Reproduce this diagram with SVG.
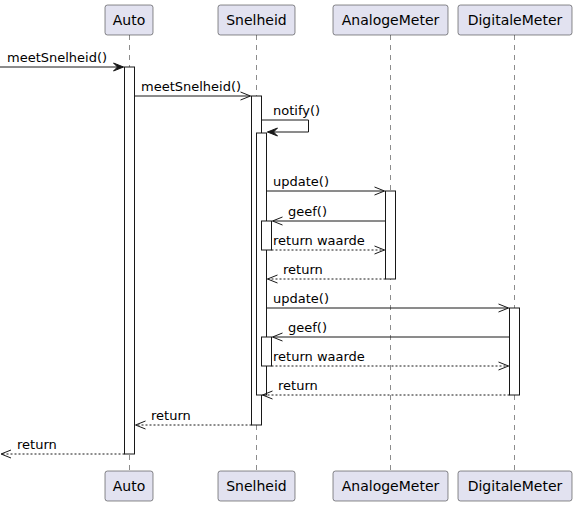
<svg xmlns="http://www.w3.org/2000/svg" width="576" height="506" viewBox="0 0 576 506">
  <style>
    .box { fill: #E2E2F0; stroke: #181818; stroke-width: 0.5; }
    .pname { font-family: "DejaVu Sans", "Liberation Sans", sans-serif; font-size: 14px; fill: #000; text-anchor: middle; }
    .life { stroke: #181818; stroke-width: 0.5; stroke-dasharray: 5,5; fill: none; }
    .act { fill: #FFFFFF; stroke: #181818; stroke-width: 1; }
    .msg { stroke: #181818; stroke-width: 1; fill: none; }
    .ret { stroke: #181818; stroke-width: 1; stroke-dasharray: 2,2; fill: none; }
    .lbl { font-family: "DejaVu Sans", "Liberation Sans", sans-serif; font-size: 13px; fill: #000; }
  </style>
  <defs>
    <marker id="open" viewBox="0 0 12 10" refX="11" refY="5" markerWidth="12" markerHeight="10" orient="auto" markerUnits="userSpaceOnUse">
      <path d="M1,1 L11,5 L1,9" fill="none" stroke="#181818" stroke-width="1"/>
    </marker>
    <marker id="solid" viewBox="0 0 12 10" refX="11" refY="5" markerWidth="12" markerHeight="10" orient="auto" markerUnits="userSpaceOnUse">
      <path d="M1,1 L11,5 L1,9 L5,5 Z" fill="#181818" stroke="#181818" stroke-width="1"/>
    </marker>
  </defs>

  <!-- lifelines -->
  <g id="lifelines">
    <line class="life" x1="129.5" y1="35" x2="129.5" y2="471"/>
    <line class="life" x1="256.5" y1="35" x2="256.5" y2="471"/>
    <line class="life" x1="390.5" y1="35" x2="390.5" y2="471"/>
    <line class="life" x1="514.5" y1="35" x2="514.5" y2="471"/>
  </g>

  <!-- participants -->
  <g id="Auto">
    <rect class="box" x="105" y="5" width="48" height="30" rx="2.5"/>
    <text class="pname" x="129" y="25">Auto</text>
    <rect class="box" x="105" y="471" width="48" height="30" rx="2.5"/>
    <text class="pname" x="129" y="491">Auto</text>
    <rect class="act" x="124.5" y="67" width="10" height="387"/>
  </g>
  <g id="Snelheid">
    <rect class="box" x="218" y="5" width="77" height="30" rx="2.5"/>
    <text class="pname" x="256.5" y="25">Snelheid</text>
    <rect class="box" x="218" y="471" width="77" height="30" rx="2.5"/>
    <text class="pname" x="256.5" y="491">Snelheid</text>
    <rect class="act" x="251.5" y="96" width="10" height="329"/>
    <rect class="act" x="256.5" y="133" width="10" height="262"/>
    <rect class="act" x="261.5" y="221" width="10" height="29"/>
    <rect class="act" x="261.5" y="337" width="10" height="29"/>
  </g>
  <g id="AnalogeMeter">
    <rect class="box" x="333" y="5" width="115" height="30" rx="2.5"/>
    <text class="pname" x="390.5" y="25">AnalogeMeter</text>
    <rect class="box" x="333" y="471" width="115" height="30" rx="2.5"/>
    <text class="pname" x="390.5" y="491">AnalogeMeter</text>
    <rect class="act" x="385.5" y="191" width="10" height="88"/>
  </g>
  <g id="DigitaleMeter">
    <rect class="box" x="458" y="5" width="114" height="30" rx="2.5"/>
    <text class="pname" x="515" y="25">DigitaleMeter</text>
    <rect class="box" x="458" y="471" width="114" height="30" rx="2.5"/>
    <text class="pname" x="515" y="491">DigitaleMeter</text>
    <rect class="act" x="509.5" y="308" width="10" height="87"/>
  </g>

  <!-- messages -->
  <g id="connectors">
    <line class="msg" x1="0" y1="67" x2="123.5" y2="67" marker-end="url(#solid)"/>
    <text class="lbl" x="7" y="62">meetSnelheid()</text>

    <line class="msg" x1="134.5" y1="96" x2="250.5" y2="96" marker-end="url(#open)"/>
    <text class="lbl" x="141" y="91">meetSnelheid()</text>

    <polyline class="msg" points="261.5,120 308.5,120 308.5,132 267.5,132" marker-end="url(#solid)"/>
    <text class="lbl" x="273" y="115">notify()</text>

    <line class="msg" x1="266.5" y1="191" x2="384.5" y2="191" marker-end="url(#open)"/>
    <text class="lbl" x="273" y="186">update()</text>

    <line class="msg" x1="385.5" y1="221" x2="272.5" y2="221" marker-end="url(#open)"/>
    <text class="lbl" x="288" y="216">geef()</text>

    <line class="ret" x1="271.5" y1="250" x2="384.5" y2="250" marker-end="url(#open)"/>
    <text class="lbl" x="273" y="245">return waarde</text>

    <line class="ret" x1="385.5" y1="279" x2="267.5" y2="279" marker-end="url(#open)"/>
    <text class="lbl" x="283" y="274">return</text>

    <line class="msg" x1="266.5" y1="308" x2="508.5" y2="308" marker-end="url(#open)"/>
    <text class="lbl" x="273" y="303">update()</text>

    <line class="msg" x1="509.5" y1="337" x2="272.5" y2="337" marker-end="url(#open)"/>
    <text class="lbl" x="288" y="332">geef()</text>

    <line class="ret" x1="271.5" y1="366" x2="508.5" y2="366" marker-end="url(#open)"/>
    <text class="lbl" x="273" y="361">return waarde</text>

    <line class="ret" x1="509.5" y1="395" x2="262.5" y2="395" marker-end="url(#open)"/>
    <text class="lbl" x="278" y="390">return</text>

    <line class="ret" x1="251.5" y1="425" x2="135.5" y2="425" marker-end="url(#open)"/>
    <text class="lbl" x="151" y="420">return</text>

    <line class="ret" x1="124.5" y1="454" x2="1" y2="454" marker-end="url(#open)"/>
    <text class="lbl" x="17" y="449">return</text>
  </g>
</svg>
